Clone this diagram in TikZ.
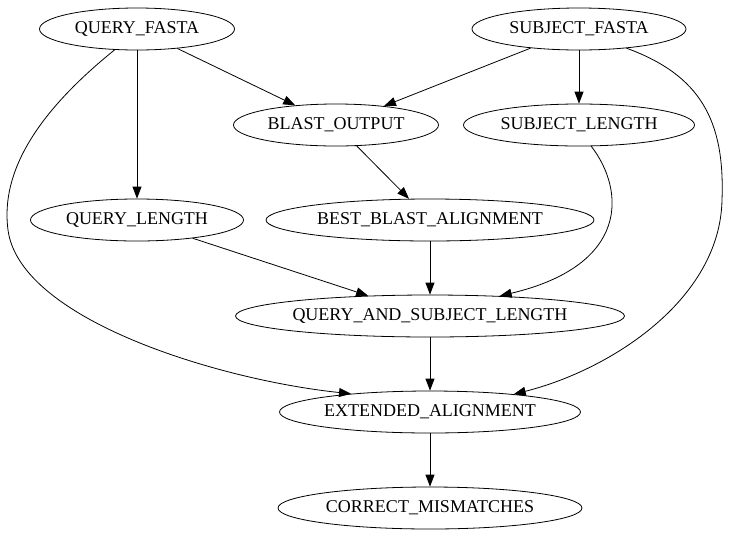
\documentclass[tikz,border=0pt]{standalone}
\usepackage{fontspec}
\setmainfont{Liberation Serif}
\usepackage{tikz}
\usetikzlibrary{shapes.geometric,arrows.meta}

\tikzset{
  job/.style={draw,ellipse,minimum height=42pt,inner sep=0pt,line width=0.8pt,font=\fontsize{18}{20}\selectfont},
  edge/.style={-{Triangle[length=12pt,width=9pt]},line width=0.8pt}
}

\begin{document}
\begin{tikzpicture}[x=1pt,y=-1pt]
  \useasboundingbox (0,0) rectangle (731,539);
  % inputs
  \node[job,minimum width=195pt] (qf) at (137,29) {QUERY\_FASTA};
  \node[job,minimum width=214pt] (sf) at (579,29) {SUBJECT\_FASTA};
  % intermediate steps
  \node[job,minimum width=205pt] (bo) at (336,125) {BLAST\_OUTPUT};
  \node[job,minimum width=231pt] (sl) at (579,125) {SUBJECT\_LENGTH};
  \node[job,minimum width=213pt] (ql) at (137,220) {QUERY\_LENGTH};
  \node[job,minimum width=328pt] (best) at (430,220) {BEST\_BLAST\_ALIGNMENT};
  \node[job,minimum width=388pt] (qasl) at (430,316) {QUERY\_AND\_SUBJECT\_LENGTH};
  \node[job,minimum width=301pt] (ext) at (430,412) {EXTENDED\_ALIGNMENT};
  \node[job,minimum width=304pt] (cm) at (430,508) {CORRECT\_MISMATCHES};

  \draw[edge] (qf) -- (bo);
  \draw[edge] (qf) -- (ql);
  \draw[edge] (sf) -- (bo);
  \draw[edge] (sf) -- (sl);
  \draw[edge] (bo) -- (best);
  \draw[edge] (ql) -- (qasl);
  \draw[edge] (best) -- (qasl);
  \draw[edge] (qasl) -- (ext);
  \draw[edge] (ext) -- (cm);
  % long curves
  \draw[edge] (qf.-137) .. controls (40,110) and (0,170) .. (8,230)
    .. controls (20,320) and (220,380) .. (ext.167);
  \draw[edge] (sf.-22) .. controls (700,75) and (725,120) .. (722,200)
    .. controls (720,300) and (610,370) .. (ext.12);
  \draw[edge] (sl.-60) .. controls (625,190) and (630,265) .. (qasl.16);
\end{tikzpicture}
\end{document}
